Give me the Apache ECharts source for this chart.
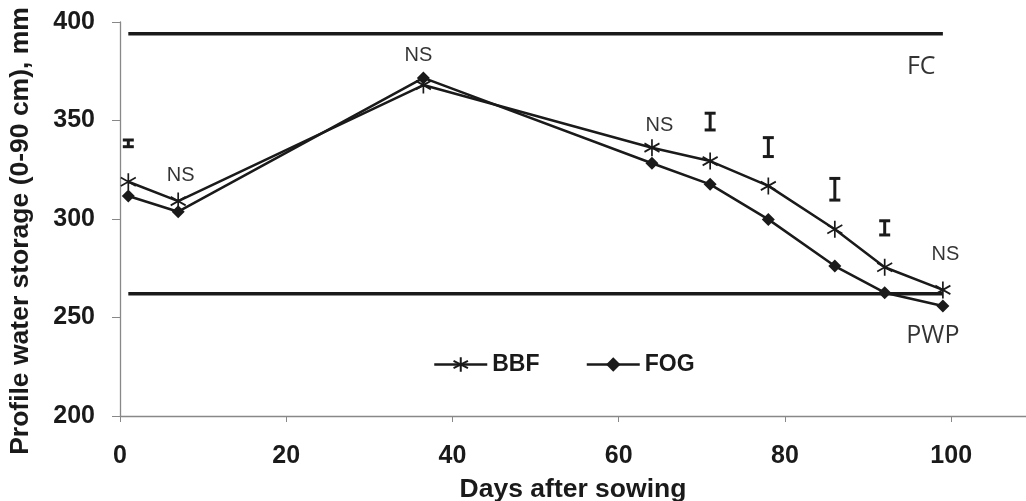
<!DOCTYPE html>
<html>
<head>
<meta charset="utf-8">
<script src="https://cdn.jsdelivr.net/npm/echarts@6/dist/echarts.min.js"></script>
<style>html,body{margin:0;padding:0;background:#fff}#c{width:1026px;height:501px}</style>
</head>
<body>
<div id="c"></div>
<script>
// ---- data ----
const days = [1, 7, 36.5, 64, 71, 78, 86, 92, 99];
const bbf = [318.9, 309.1, 368, 336.2, 329.4, 316.8, 294.8, 275.5, 264];
const fog = [311.7, 303.7, 371.6, 328.3, 317.6, 299.8, 276.1, 262.6, 255.8];
const errDays = [1, 71, 78, 86, 92];
const errLow = [336.7, 345.2, 331.7, 309.6, 291.9];
const errHigh = [340.1, 353.7, 341.3, 320.6, 299.1];
const fcDays = [1, 99];
const fcValue = 394;
const pwpDays = [1, 99];
const pwpValue = 262;
const noteText = ['NS', 'NS', 'NS', 'NS', 'FC', 'PWP'];
const noteDays = [7.3, 35.9, 64.9, 99.3, 96.4, 97.8];
const noteValues = [322, 383, 347.4, 282.2, 377, 240.6];
const xTicks = [0, 20, 40, 60, 80, 100];

const ink = '#1a1a1a';
const asterisk = 'path://M10,0L10,20M1.34,5L18.66,15M1.34,15L18.66,5';

const chart = echarts.init(document.getElementById('c'));
chart.setOption({
  animation: false,
  backgroundColor: '#fff',
  grid: { left: 120, right: 0, top: 22, bottom: 85, containLabel: false, outerBoundsMode: 'none' },
  legend: {
    data: ['BBF', 'FOG'],
    left: 428, top: 348,
    itemWidth: 53, itemHeight: 18, itemGap: 46,
    lineStyle: { width: 2.5, color: ink },
    textStyle: { fontFamily: 'Liberation Sans', fontWeight: 'bold', fontSize: 23, color: ink }
  },
  xAxis: {
    type: 'value', min: 0, max: 109, interval: 20,
    name: 'Days after sowing', nameLocation: 'middle', nameGap: 60,
    nameTextStyle: { fontFamily: 'Liberation Sans', fontWeight: 'bold', fontSize: 26.5, color: ink },
    axisLine: { lineStyle: { color: '#888', width: 1.3 } },
    axisTick: { length: 6, lineStyle: { color: '#888' }, customValues: xTicks },
    axisLabel: { customValues: xTicks, margin: 28, fontFamily: 'Liberation Sans', fontWeight: 'bold', fontSize: 25, color: ink },
    splitLine: { show: false }
  },
  yAxis: {
    type: 'value', min: 200, max: 400, interval: 50,
    name: 'Profile water storage (0-90 cm), mm', nameLocation: 'middle', nameGap: 86,
    nameTextStyle: { fontFamily: 'Liberation Sans', fontWeight: 'bold', fontSize: 26.5, color: ink, padding: [0, 24, 0, 0] },
    axisLine: { show: true, lineStyle: { color: '#888', width: 1.3 } },
    axisTick: { show: true, length: 8, lineStyle: { color: '#888' } },
    axisLabel: { margin: 25, fontFamily: 'Liberation Sans', fontWeight: 'bold', fontSize: 25, color: ink },
    splitLine: { show: false }
  },
  series: [
    {
      name: 'FC', type: 'line', silent: true, symbol: 'none',
      data: fcDays.map(d => [d, fcValue]),
      lineStyle: { color: ink, width: 3.5 }
    },
    {
      name: 'PWP', type: 'line', silent: true, symbol: 'none',
      data: pwpDays.map(d => [d, pwpValue]),
      lineStyle: { color: ink, width: 3.5 }
    },
    {
      name: 'BBF', type: 'line',
      data: days.map((d, i) => [d, bbf[i]]),
      symbol: asterisk, symbolSize: [15, 17],
      lineStyle: { color: ink, width: 2.5 },
      itemStyle: { color: ink, borderColor: ink, borderWidth: 1.8 }
    },
    {
      name: 'FOG', type: 'line',
      data: days.map((d, i) => [d, fog[i]]),
      symbol: 'diamond', symbolSize: 13,
      lineStyle: { color: ink, width: 2.5 },
      itemStyle: { color: ink, borderColor: ink, borderWidth: 0 }
    },
    {
      name: 'err', type: 'custom', silent: true,
      data: errDays.map((d, i) => [d, errLow[i], errHigh[i]]),
      renderItem: function (params, api) {
        const lo = api.coord([api.value(0), api.value(1)]);
        const hi = api.coord([api.value(0), api.value(2)]);
        const hw = 5.5;
        const st = { stroke: ink, lineWidth: 3 };
        return {
          type: 'group',
          children: [
            { type: 'line', shape: { x1: lo[0], y1: lo[1], x2: hi[0], y2: hi[1] }, style: st },
            { type: 'line', shape: { x1: lo[0] - hw, y1: lo[1], x2: lo[0] + hw, y2: lo[1] }, style: st },
            { type: 'line', shape: { x1: hi[0] - hw, y1: hi[1], x2: hi[0] + hw, y2: hi[1] }, style: st }
          ]
        };
      }
    },
    {
      name: 'notes', type: 'scatter', silent: true,
      symbolSize: 0,
      itemStyle: { color: 'transparent' },
      data: noteDays.map((d, i) => ({
        value: [d, noteValues[i]], name: noteText[i],
        label: noteText[i] === 'NS' ? {} : { fontFamily: 'Open Sans', fontSize: 25 }
      })),
      label: {
        show: true, position: 'inside',
        formatter: p => p.name,
        color: '#000',
        textBorderWidth: 0, textBorderColor: 'transparent',
        fontFamily: 'Liberation Sans', fontSize: 20
      },
      emphasis: { disabled: true }
    }
  ]
});
</script>
</body>
</html>
